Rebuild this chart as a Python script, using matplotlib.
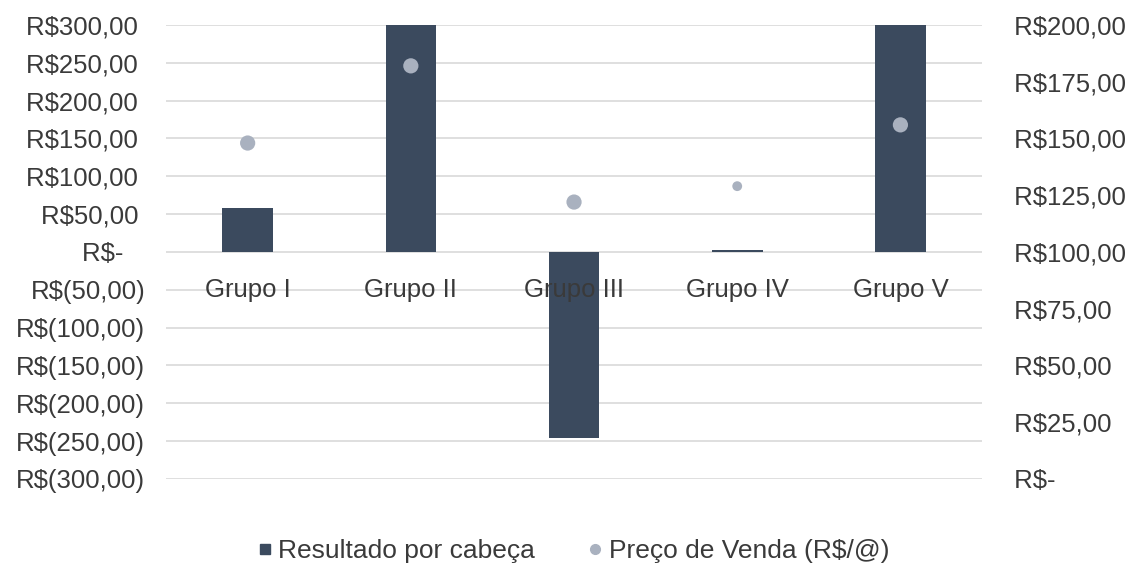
import matplotlib
matplotlib.use('Agg')
import matplotlib.pyplot as plt
from matplotlib.lines import Line2D

plt.rcParams['font.family'] = ['Liberation Sans', 'DejaVu Sans']

grupos = ['Grupo I', 'Grupo II', 'Grupo III', 'Grupo IV', 'Grupo V']
resultado = [58, 330, -246, 3, 325]          # R$ por cabeça (eixo esquerdo)
preco_venda = [148, 182, 122, 129, 156]      # R$/@ (eixo direito)
left_ticks = list(range(-300, 301, 50))
right_ticks = list(range(0, 201, 25))

marker_sizes = [120, 120, 120, 50, 120]
bar_color = '#3b4a5e'
dot_color = '#a9b1bf'
txt = '#3a3a3a'
fs = 18.5


def fmt_left(v):
    if v == 0:
        return 'R$-   '
    s = f'{abs(v):.2f}'.replace('.', ',')
    return f'R$({s})' if v < 0 else f'R${s} '


def fmt_right(v):
    if v == 0:
        return ' R$-'
    return ' R$' + f'{v:.2f}'.replace('.', ',')


fig = plt.figure(figsize=(11.46, 5.68), dpi=100)
ax = fig.add_axes([0.1449, 0.1567, 0.712, 0.7993])
x = list(range(len(grupos)))

# linhas de grade atrás das barras, rótulos do eixo por cima
for v in left_ticks:
    ax.axhline(v, color='#d9d9d9', linewidth=1.2, zorder=0)
ax.bar(x, resultado, width=0.31, color=bar_color, zorder=1)
ax.set_xlim(-0.5, len(grupos) - 0.5)
ax.set_ylim(-300, 300)
ax.set_yticks(left_ticks)
ax.set_yticklabels([fmt_left(v) for v in left_ticks])
ax.tick_params(axis='y', length=0, pad=15, labelsize=fs, labelcolor=txt)

ax.spines['bottom'].set_position(('data', 0))
for sp in ax.spines.values():
    sp.set_visible(False)
ax.set_xticks(x)
ax.set_xticklabels(grupos)
ax.tick_params(axis='x', length=0, pad=19, labelsize=fs, labelcolor=txt)

ax2 = ax.twinx()
ax2.scatter(x, preco_venda, s=marker_sizes, color=dot_color, zorder=3, linewidths=0)
ax2.set_ylim(0, 200)
ax2.set_yticks(right_ticks)
ax2.set_yticklabels([fmt_right(v) for v in right_ticks], ha='left')
ax2.tick_params(axis='y', length=0, pad=18, labelsize=fs, labelcolor=txt)
for sp in ax2.spines.values():
    sp.set_visible(False)

handles = [
    Line2D([], [], marker='s', linestyle='none', color=bar_color, markersize=7),
    Line2D([], [], marker='o', linestyle='none', color=dot_color, markersize=7),
]
fig.legend(handles, ['Resultado por cabeça', 'Preço de Venda (R$/@)'],
           loc='center', bbox_to_anchor=(0.5, 0.03), ncol=2, frameon=False,
           fontsize=19, labelcolor=txt, handlelength=0.6, handletextpad=0.2,
           columnspacing=2.0)

fig.savefig('out.png', dpi=100, facecolor='white')
